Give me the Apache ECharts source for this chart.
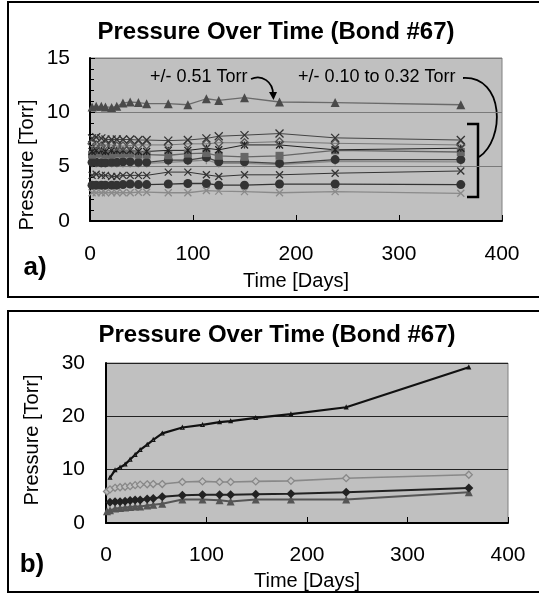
<!DOCTYPE html>
<html>
<head>
<meta charset="utf-8">
<script src="https://cdn.jsdelivr.net/npm/echarts@6/dist/echarts.min.js"></script>
<style>
html, body { margin: 0; padding: 0; background: #fff; }
#chart { width: 539px; height: 594px; }
</style>
</head>
<body>
<div id="chart"></div>
<script>
var FONT = '"Liberation Sans", Arial, sans-serif';

// ---- panel a) data ----
var daysA = [2, 6, 11, 15, 21, 26, 32, 39, 47, 55, 76, 95, 113, 125, 150, 184, 238, 360];
var triA   = [10.5, 10.55, 10.55, 10.5, 10.45, 10.55, 10.85, 10.95, 10.9, 10.8, 10.8, 10.7, 11.25, 11.1, 11.35, 10.95, 10.9, 10.7];
var crossTopA = [7.6, 7.7, 7.6, 7.5, 7.5, 7.5, 7.5, 7.5, 7.45, 7.45, 7.4, 7.45, 7.6, 7.8, 7.9, 8.05, 7.65, 7.45];
var diamondA  = [7.1, 7.0, 6.9, 7.0, 7.0, 6.9, 6.9, 6.95, 7.0, 7.0, 7.0, 7.1, 7.1, 7.2, 7.2, 7.3, 7.15, 7.0];
var starA     = [6.4, 6.5, 6.5, 6.4, 6.5, 6.5, 6.5, 6.5, 6.4, 6.4, 6.5, 6.5, 6.7, 6.55, 7.0, 7.0, 6.55, 6.7];
var squareA   = [6.1, 6.2, 6.2, 6.1, 6.1, 6.2, 6.2, 6.2, 6.1, 6.1, 6.05, 6.2, 6.25, 6.0, 5.9, 6.0, 6.5, 6.35];
var circleTopA = [5.4, 5.4, 5.35, 5.35, 5.4, 5.4, 5.45, 5.45, 5.4, 5.4, 5.6, 5.6, 5.85, 5.45, 5.45, 5.3, 5.65, 5.65];
var plusA     = [5.3, 5.3, 5.3, 5.3, 5.3, 5.3, 5.3, 5.3, 5.3, 5.3, 5.4, 5.5, 5.6, 5.3, 5.3, 5.2, 5.5, 5.45];
var crossMidA = [4.2, 4.3, 4.2, 4.2, 4.1, 4.1, 4.2, 4.2, 4.2, 4.2, 4.5, 4.5, 4.25, 4.1, 4.25, 4.25, 4.4, 4.6];
var circleLowA = [3.3, 3.3, 3.3, 3.3, 3.3, 3.3, 3.35, 3.4, 3.35, 3.35, 3.4, 3.45, 3.45, 3.3, 3.3, 3.4, 3.4, 3.35];
var crossLowA = [2.6, 2.6, 2.6, 2.6, 2.6, 2.6, 2.6, 2.6, 2.65, 2.65, 2.6, 2.6, 2.8, 2.75, 2.7, 2.6, 2.7, 2.55];

// ---- panel b) data ----
var daysB = [1, 4, 9, 14, 19, 24, 29, 34, 41, 47, 56, 76, 96, 113, 124, 149, 184, 239, 361];
var blackLineB = [null, 8.5, 9.9, 10.4, 11.0, 11.9, 12.8, 13.7, 14.7, 15.6, 16.8, 17.9, 18.4, 18.9, 19.1, 19.7, 20.4, 21.7, 29.2];
var openDiamondB = [5.9, 6.3, 6.6, 6.7, 6.8, 6.9, 7.1, 7.2, 7.25, 7.3, 7.3, 7.7, 7.8, 7.7, 7.7, 7.8, 7.9, 8.4, 9.05];
var darkDiamondB = [null, 3.9, 4.0, 4.0, 4.1, 4.2, 4.3, 4.3, 4.5, 4.6, 4.9, 5.2, 5.3, 5.3, 5.3, 5.4, 5.5, 5.75, 6.55];
var triangleB = [2.2, 2.4, 2.7, 2.8, 2.9, 3.0, 3.1, 3.1, 3.3, 3.4, 3.6, 4.4, 4.4, 4.25, 4.05, 4.4, 4.4, 4.4, 5.75];

var titleText = 'Pressure Over Time (Bond #67)';

var CROSS = 'path://M0,0L10,10M10,0L0,10';
var PLUS = 'path://M5,0L5,10M0,5L10,5';
var STAR = 'path://M0,0L10,10M10,0L0,10M5,0L5,10';

function pairs(days, vals) {
    var out = [];
    for (var i = 0; i < days.length; i++) {
        if (vals[i] != null) out.push([days[i], vals[i]]);
    }
    return out;
}

function lineA(vals, symbol, size, col, lineCol, lineW, stroked) {
    return {
        type: 'line', xAxisIndex: 0, yAxisIndex: 0,
        data: pairs(daysA, vals),
        symbol: symbol, symbolSize: size,
        lineStyle: { color: lineCol, width: lineW },
        itemStyle: stroked
            ? { color: 'rgba(0,0,0,0)', borderColor: col, borderWidth: 1.3 }
            : { color: col, borderWidth: 0 }
    };
}

function lineB(vals, symbol, size, col, lineW, stroked) {
    return {
        type: 'line', xAxisIndex: 1, yAxisIndex: 1,
        data: pairs(daysB, vals),
        symbol: symbol, symbolSize: size,
        lineStyle: { color: col, width: lineW },
        itemStyle: stroked
            ? { color: '#c0c0c0', borderColor: col, borderWidth: 1.3 }
            : { color: col, borderWidth: 0 }
    };
}

function xAx(idx, margin, gap) {
    return {
        type: 'value', gridIndex: idx, min: 0, max: 400, interval: 100,
        name: 'Time [Days]', nameLocation: 'middle', nameGap: gap,
        nameTextStyle: { fontFamily: FONT, fontSize: 20, color: '#000' },
        axisLine: { show: true, lineStyle: { color: '#000', width: 2 } },
        axisTick: { show: true, inside: true, length: 6, lineStyle: { color: '#000' } },
        axisLabel: { margin: margin, fontFamily: FONT, fontSize: 21, color: '#000' },
        splitLine: { show: false }
    };
}

var chart = echarts.init(document.getElementById('chart'));
var option = {
    animation: false,
    backgroundColor: '#fff',
    grid: [
        { left: 90, right: 37, top: 58, height: 163, show: true, backgroundColor: '#c0c0c0', borderColor: '#808080', borderWidth: 1 },
        { left: 106, right: 31, top: 363, height: 160, show: true, backgroundColor: '#c0c0c0', borderColor: '#808080', borderWidth: 1 }
    ],
    xAxis: [xAx(0, 23, 50), xAx(1, 22, 48)],
    yAxis: [
        {
            type: 'value', gridIndex: 0, min: 0, max: 15, interval: 5,
            axisLine: { show: true, lineStyle: { color: '#000', width: 2 } },
            axisTick: { show: true, inside: true, length: 5, lineStyle: { color: '#000' } },
            minorTick: { show: true, splitNumber: 5, length: 4, lineStyle: { color: '#000' } },
            axisLabel: { margin: 20, fontFamily: FONT, fontSize: 21, color: '#000' },
            splitLine: { show: true, lineStyle: { color: '#7a7a7a', width: 1.2 } }
        },
        {
            type: 'value', gridIndex: 1, min: 0, max: 30, interval: 10,
            axisLine: { show: true, lineStyle: { color: '#000', width: 2 } },
            axisTick: { show: false },
            axisLabel: { margin: 21, fontFamily: FONT, fontSize: 21, color: '#000' },
            splitLine: { show: true, lineStyle: { color: '#222', width: 1.2 } }
        }
    ],
    series: [
        lineA(crossLowA, CROSS, 7, '#8a8a8a', '#8a8a8a', 1.3, true),
        lineA(circleLowA, 'circle', 9, '#333', '#333', 1.3, false),
        lineA(crossMidA, CROSS, 7, '#333', '#333', 1, true),
        lineA(plusA, PLUS, 8, '#8a8a8a', '#8a8a8a', 1.3, true),
        lineA(circleTopA, 'circle', 9, '#333', '#444', 1.3, false),
        lineA(squareA, 'rect', 8, '#666', '#666', 1.3, false),
        lineA(starA, STAR, 7, '#222', '#222', 1, true),
        lineA(diamondA, 'diamond', 8, '#555', '#777', 1, true),
        lineA(crossTopA, CROSS, 8, '#333', '#444', 1, true),
        lineA(triA, 'triangle', 9, '#4a4a4a', '#6a6a6a', 1.3, false),
        lineB(triangleB, 'triangle', 8, '#555', 2, false),
        lineB(darkDiamondB, 'diamond', 9, '#222', 2, false),
        lineB(openDiamondB, 'diamond', 7, '#888', 1.6, true),
        lineB(blackLineB, 'triangle', 3, '#111', 2.2, true)
    ],
    graphic: [
        // panel frames
        { type: 'rect', shape: { x: 8, y: 2, width: 600, height: 295 }, style: { fill: null, stroke: '#000', lineWidth: 2 }, silent: true },
        { type: 'rect', shape: { x: 8, y: 311, width: 600, height: 281 }, style: { fill: null, stroke: '#000', lineWidth: 2 }, silent: true },
        // titles
        { type: 'text', x: 276, y: 32, style: { text: titleText, font: 'bold 24px ' + FONT, fill: '#000', align: 'center', verticalAlign: 'middle' } },
        { type: 'text', x: 277, y: 335, style: { text: titleText, font: 'bold 24px ' + FONT, fill: '#000', align: 'center', verticalAlign: 'middle' } },
        // y axis names
        { type: 'text', x: 27, y: 165, rotation: Math.PI / 2, style: { text: 'Pressure [Torr]', font: '20px ' + FONT, fill: '#000', align: 'center', verticalAlign: 'middle' } },
        { type: 'text', x: 32, y: 440, rotation: Math.PI / 2, style: { text: 'Pressure [Torr]', font: '20px ' + FONT, fill: '#000', align: 'center', verticalAlign: 'middle' } },
        // panel letters
        { type: 'text', x: 35, y: 268, style: { text: 'a)', font: 'bold 26px ' + FONT, fill: '#000', align: 'center', verticalAlign: 'middle' } },
        { type: 'text', x: 32, y: 565, style: { text: 'b)', font: 'bold 26px ' + FONT, fill: '#000', align: 'center', verticalAlign: 'middle' } },
        // annotations
        { type: 'text', x: 150, y: 77, style: { text: '+/- 0.51 Torr', font: '18px ' + FONT, fill: '#000', align: 'left', verticalAlign: 'middle' } },
        { type: 'text', x: 298, y: 77, style: { text: '+/- 0.10 to 0.32 Torr', font: '18px ' + FONT, fill: '#000', align: 'left', verticalAlign: 'middle' } },
        { type: 'bezierCurve', shape: { x1: 251, y1: 79, cpx1: 262, cpy1: 74, cpx2: 273, cpy2: 82, x2: 273, y2: 94 }, style: { stroke: '#000', lineWidth: 1.8, fill: null } },
        { type: 'polygon', shape: { points: [[269, 92], [277, 92], [273.5, 100]] }, style: { fill: '#000' } },
        { type: 'bezierCurve', shape: { x1: 463, y1: 78, cpx1: 505, cpy1: 76, cpx2: 505, cpy2: 140, x2: 479, y2: 157 }, style: { stroke: '#000', lineWidth: 1.8, fill: null } },
        { type: 'polyline', shape: { points: [[467, 124], [478, 124], [478, 197], [467, 197]] }, style: { stroke: '#000', lineWidth: 2.5, fill: null } }
    ]
};
chart.setOption(option);
</script>
</body>
</html>
